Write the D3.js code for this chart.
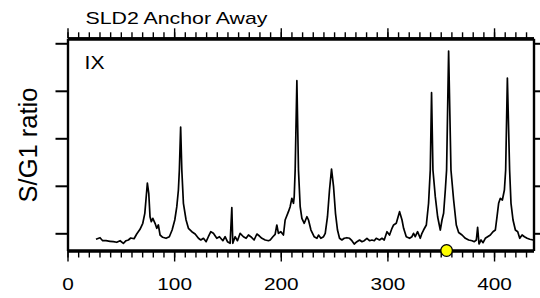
<!doctype html>
<html>
<head>
<meta charset="utf-8">
<script src="https://d3js.org/d3.v7.min.js"></script>
<style>
body { margin: 0; background: #fff; }
text { font-family: "Liberation Sans", Arial, Helvetica, sans-serif; fill: #000; }
</style>
</head>
<body>
<script>
// chromosome position (kb) and S/G1 ratio
var position = [26.7, 30.5, 33.0, 36.1, 39.9, 43.0, 46.2, 49.3, 52.4, 54.9, 57.1, 59.3, 62.4, 64.9, 68.0, 70.6, 72.5, 73.7, 74.9, 76.2,
	77.4, 78.6, 80.0, 82.1, 83.7, 85.2, 86.8, 89.3, 92.4, 95.5, 98.1, 100.6, 102.5, 104.0, 104.9, 106.1, 107.2, 108.7, 111.2, 113.4,
	116.6, 119.7, 122.8, 125.0, 127.5, 130.0, 132.1, 134.4, 136.8, 140.0, 142.5, 145.7, 147.8, 150.0, 152.5, 154.1, 155.0, 157.2, 159.4, 161.9,
	165.0, 167.5, 169.7, 171.9, 175.0, 177.6, 180.0, 182.3, 185.4, 188.5, 190.1, 192.6, 194.7, 196.3, 197.8, 200.1, 202.5, 204.1, 207.2, 208.8,
	210.4, 211.9, 212.6, 213.5, 215.1, 216.6, 218.2, 219.8, 222.0, 224.5, 226.0, 228.3, 231.3, 233.9, 235.4, 237.6, 240.1, 241.7, 243.8, 245.7,
	247.6, 249.5, 251.3, 253.2, 255.1, 257.3, 259.5, 262.0, 264.5, 266.7, 268.9, 271.4, 273.9, 276.1, 278.3, 280.8, 283.2, 285.5, 287.7, 289.5,
	292.6, 294.9, 297.0, 299.6, 302.0, 304.3, 305.8, 308.3, 311.4, 313.7, 315.2, 317.7, 320.8, 323.0, 324.5, 326.1, 328.3, 330.8, 332.4, 333.9,
	336.5, 338.6, 340.2, 341.4, 342.7, 344.9, 347.1, 349.6, 351.2, 352.7, 354.3, 355.5, 357.4, 359.6, 362.1, 364.6, 366.8, 370.0, 373.1, 376.2,
	379.4, 381.5, 383.4, 384.6, 385.9, 387.8, 389.7, 391.8, 394.0, 396.5, 399.0, 401.2, 402.8, 404.3, 405.9, 407.8, 409.7, 410.9, 412.5, 414.6,
	415.9, 417.8, 420.0, 422.2, 424.1, 426.3, 428.5, 431.0, 433.5, 436.7];
var ratio = [0.874, 0.907, 0.844, 0.844, 0.832, 0.823, 0.811, 0.844, 0.789, 0.844, 0.859, 0.901, 0.886, 0.985, 1.084, 1.211, 1.421, 1.737, 2.059, 1.842,
	1.349, 1.244, 1.316, 1.211, 1.105, 1.175, 0.964, 0.916, 0.895, 0.928, 1.069, 1.280, 1.560, 1.912, 2.333, 3.238, 2.333, 1.632, 1.280, 1.105,
	1.034, 0.985, 0.895, 0.859, 0.895, 0.823, 0.928, 1.034, 1.000, 0.895, 0.928, 0.844, 0.928, 0.823, 0.789, 1.543, 0.789, 0.928, 0.844, 1.000,
	0.928, 0.895, 0.964, 0.928, 0.859, 0.985, 0.943, 0.895, 0.859, 0.844, 0.859, 0.928, 0.979, 1.175, 1.000, 1.034, 0.964, 1.280, 1.455, 1.560,
	1.737, 1.632, 1.771, 2.333, 4.213, 2.333, 1.560, 1.316, 1.211, 1.349, 1.280, 1.069, 0.928, 0.895, 0.964, 0.895, 0.928, 1.000, 1.349, 1.912,
	2.354, 1.981, 1.421, 1.069, 0.895, 0.859, 0.895, 0.907, 0.895, 0.844, 0.775, 0.823, 0.859, 0.823, 0.844, 0.895, 0.844, 0.859, 0.844, 0.895,
	0.859, 0.895, 0.859, 1.034, 0.964, 1.105, 1.175, 1.211, 1.455, 1.280, 1.105, 0.928, 0.895, 0.928, 1.000, 0.928, 1.034, 0.895, 1.000, 1.069,
	1.175, 1.632, 2.333, 3.960, 2.333, 1.771, 1.349, 1.069, 1.280, 1.421, 1.912, 2.333, 4.838, 2.333, 1.701, 1.175, 1.017, 0.964, 0.895, 0.859,
	0.844, 0.823, 0.859, 1.126, 0.775, 0.859, 0.802, 0.895, 0.928, 0.964, 1.034, 1.069, 1.349, 1.632, 1.737, 1.701, 1.912, 2.333, 4.269, 2.333,
	1.632, 1.280, 1.069, 1.034, 0.895, 0.964, 0.928, 0.895, 0.874, 0.859];
var xMajorTicks = [0, 100, 200, 300, 400];
var yTicks = [1, 2, 3, 4, 5];
var markerPos = [355.5];
var titleText = 'SLD2 Anchor Away';
var panelText = 'IX';
var yLabel = 'S/G1 ratio';

var width = 540, height = 298;
var mLeft = 67.5, mRight = 533.5, mTop = 38.3, mBottom = 250.5;

var svg = d3.select('body').append('svg').attr('width', width).attr('height', height);

var x = d3.scaleLinear().domain([0, 437]).range([mLeft, mRight]);
var y = d3.scaleLinear().domain([0.638, 5.105]).range([mBottom, mTop]);
var minorTicks = d3.range(0, 437, 10);

//Left and right axes, unlabelled ticks
var gL = svg.append('g').attr('transform', 'translate(' + mLeft + ',0)')
	.call(d3.axisLeft(y).tickValues(yTicks).tickSize(12).tickSizeOuter(0).tickFormat(''));
var gR = svg.append('g').attr('transform', 'translate(' + mRight + ',0)')
	.call(d3.axisRight(y).tickValues(yTicks).tickSize(12).tickSizeOuter(0).tickFormat(''));
[gL, gR].forEach(function(g) {
	g.selectAll('.tick line').attr('stroke-width', 2);
	g.select('.domain').attr('stroke-width', 2.4);
});

//Bottom axis: minor + major ticks with labels
var gMinB = svg.append('g').attr('transform', 'translate(0,' + mBottom + ')')
	.call(d3.axisBottom(x).tickValues(minorTicks).tickSize(7).tickSizeOuter(0).tickFormat(''));
var gMajB = svg.append('g').attr('transform', 'translate(0,' + mBottom + ')')
	.call(d3.axisBottom(x).tickValues(xMajorTicks).tickSize(11).tickSizeOuter(0).tickFormat(d3.format('d')));
gMajB.selectAll('text').attr('y', 39.5).attr('dy', null)
	.style('font-size', '16px').attr('transform', 'scale(1.3,1)');

//Top axis
var gMinT = svg.append('g').attr('transform', 'translate(0,' + mTop + ')')
	.call(d3.axisTop(x).tickValues(minorTicks).tickSize(6).tickSizeOuter(0).tickFormat(''));
var gMajT = svg.append('g').attr('transform', 'translate(0,' + mTop + ')')
	.call(d3.axisTop(x).tickValues(xMajorTicks).tickSize(10).tickSizeOuter(0).tickFormat(''));

[gMinB, gMajB, gMinT, gMajT].forEach(function(g) {
	g.selectAll('.tick line').attr('stroke-width', 1.4);
	g.select('.domain').attr('stroke-width', 3.2);
});

//Ratio trace
var line = d3.line()
	.x(function(d, i) { return x(position[i]); })
	.y(function(d) { return y(d); });
svg.append('path').attr('d', line(ratio))
	.attr('fill', 'none').attr('stroke', '#000').attr('stroke-width', 1.7)
	.attr('stroke-linejoin', 'round');

//Marker on the axis
svg.selectAll('.marker').data(markerPos).enter().append('circle')
	.attr('class', 'marker')
	.attr('cx', function(d) { return x(d); })
	.attr('cy', y(y.domain()[0]))
	.attr('r', 5.8)
	.attr('fill', '#ffff00').attr('stroke', '#000').attr('stroke-width', 1.3);

//Texts
svg.append('text').attr('x', 85.5).attr('y', 24.3)
	.attr('textLength', 182).attr('lengthAdjust', 'spacingAndGlyphs')
	.style('font-size', '17px').text(titleText);
svg.append('text').attr('x', 84.5).attr('y', 69.3)
	.attr('textLength', 20).attr('lengthAdjust', 'spacingAndGlyphs')
	.style('font-size', '17.5px').text(panelText);
svg.append('text').attr('transform', 'translate(36.7,145) rotate(-90)')
	.attr('text-anchor', 'middle')
	.style('font-size', '25.5px').text(yLabel);
</script>
</body>
</html>
